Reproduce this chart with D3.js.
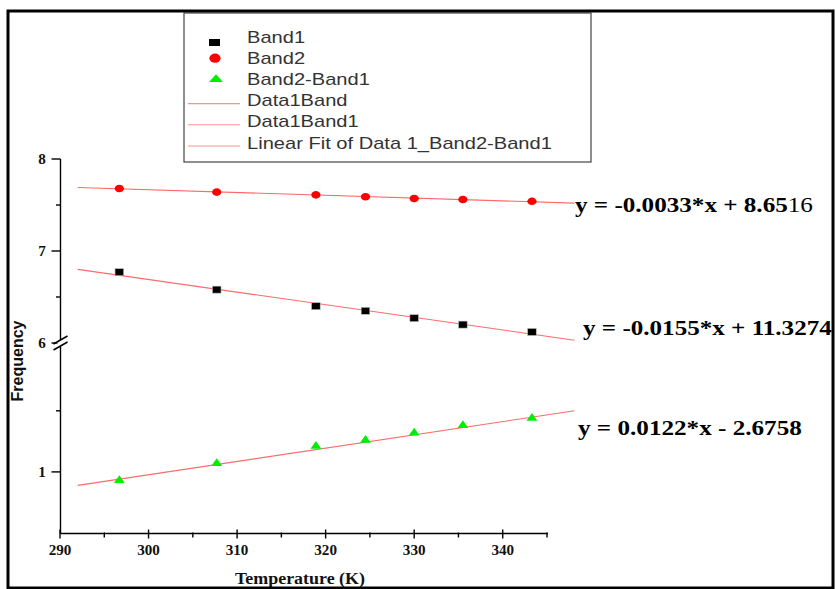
<!DOCTYPE html>
<html>
<head>
<meta charset="utf-8">
<script src="https://cdn.jsdelivr.net/npm/d3@7"></script>
<style>
  html, body { margin: 0; padding: 0; background: #fff; }
  svg { display: block; }
</style>
</head>
<body>
<svg id="chart" width="836" height="589"></svg>
<script>
// values
const temps = [296.7, 307.7, 318.9, 324.5, 330.0, 335.5, 343.3]
const band1 = [6.77, 6.58, 6.40, 6.35, 6.27, 6.20, 6.12]
const band2 = [7.68, 7.64, 7.61, 7.59, 7.57, 7.56, 7.54]
const band2MinusBand1 = [0.93, 1.07, 1.21, 1.26, 1.32, 1.38, 1.44]

// fitted lines, start and end
const fitX = [292.0, 348.1]
const fitBand2 = [7.69, 7.52]
const fitBand1 = [6.80, 6.03]
const fitDiff = [0.89, 1.50]

const xTicks = [290, 300, 310, 320, 330, 340]
const xMinor = [295, 305, 315, 325, 335, 345]
const yTicksUpper = [6, 7, 8]
const yMinorUpper = [6.5, 7.5]
const yTicksLower = [1]
const yMinorLower = [1.5]

const legendItems = ['Band1', 'Band2', 'Band2-Band1', 'Data1Band', 'Data1Band1', 'Linear Fit of Data 1_Band2-Band1']

const RED = '#ff0000', GREEN = '#00ee00', FIT = '#ff6a6a'
const SERIF = '"Liberation Serif", "Times New Roman", serif'
const SANS = '"Liberation Sans", Arial, sans-serif'

let svg = d3.select('#chart')
svg.append('rect').attr('width', 836).attr('height', 589).attr('fill', '#fff')

let x = d3.scaleLinear().domain([290, 345]).range([60, 547])
let yUp = d3.scaleLinear().domain([6, 8]).range([343, 159])
let yLow = d3.scaleLinear().domain([0.5, 2.055]).range([533, 343])
const axisY = 533.5, axisX = 60.5

// the picture is stretched sideways, so text gets squeezed/stretched to a measured width
function placeText(g, tx, ty, str, sx) {
    return g.append('text')
        .attr('transform', `translate(${tx},${ty}) scale(${sx},1)`)
        .text(str)
}
function fitWidth(sel, tx, ty, width) {
    let len = sel.node().getComputedTextLength()
    sel.attr('transform', `translate(${tx},${ty}) scale(${width / len},1)`)
    return width / len
}

// ---- axes ----
let axes = svg.append('g').attr('stroke', '#000').attr('stroke-width', 1.4)
axes.append('line').attr('x1', axisX).attr('x2', x(345) + 1).attr('y1', axisY).attr('y2', axisY)
axes.append('line').attr('x1', axisX).attr('x2', axisX).attr('y1', yUp(8)).attr('y2', axisY)

axes.selectAll('.xmaj').data(xTicks).join('line')
    .attr('x1', d => x(d)).attr('x2', d => x(d))
    .attr('y1', axisY - 4).attr('y2', axisY + 5)
axes.selectAll('.xmin').data(xMinor).join('line')
    .attr('x1', d => x(d)).attr('x2', d => x(d))
    .attr('y1', axisY - 1).attr('y2', axisY + 4)

let yMajor = yTicksUpper.map(yUp).concat(yTicksLower.map(yLow))
let yMinor = yMinorUpper.map(yUp).concat(yMinorLower.map(yLow))
axes.selectAll('.ymaj').data(yMajor).join('line')
    .attr('x1', axisX - 9).attr('x2', axisX).attr('y1', d => d).attr('y2', d => d)
axes.selectAll('.ymin').data(yMinor).join('line')
    .attr('x1', axisX - 4.5).attr('x2', axisX).attr('y1', d => d).attr('y2', d => d)

// axis break
let yb = yUp(6)
svg.append('rect').attr('x', axisX - 3).attr('y', yb - 3).attr('width', 6).attr('height', 6).attr('fill', '#fff')
svg.append('g').attr('stroke', '#000').attr('stroke-width', 1.6)
    .selectAll('line').data([-3, 3]).join('line')
    .attr('x1', axisX - 7).attr('x2', axisX + 7)
    .attr('y1', d => yb + d + 4).attr('y2', d => yb + d - 4)

// tick labels
let tickFont = svg.append('g')
    .attr('font-family', SERIF).attr('font-weight', 'bold').attr('font-size', 14)
    .attr('fill', '#111').attr('text-anchor', 'middle')
let tsx = 0
xTicks.forEach((t, i) => {
    let el = placeText(tickFont, x(t), 555, t, 1)
    if (i === 0) tsx = fitWidth(el, x(t), 555, 22.7)
    else el.attr('transform', `translate(${x(t)},555) scale(${tsx},1)`)
})
yTicksUpper.forEach(t => placeText(tickFont, 42, yUp(t) + 5, t, tsx))
yTicksLower.forEach(t => placeText(tickFont, 42, yLow(t) + 5, t, tsx))

// axis titles
let xTitle = placeText(svg.append('g').attr('font-family', SERIF).attr('font-weight', 'bold')
    .attr('font-size', 16).attr('fill', '#111').attr('text-anchor', 'middle'),
    300, 584, 'Temperature (K)', 1)
fitWidth(xTitle, 300, 584, 130)
svg.append('text')
    .attr('transform', `translate(23,361) rotate(-90)`)
    .attr('font-family', SANS).attr('font-weight', 'bold').attr('font-size', 16)
    .attr('fill', '#111').attr('text-anchor', 'middle')
    .text('Frequency')

// ---- fit lines ----
let fits = svg.append('g').attr('stroke', FIT).attr('stroke-width', 1.1).attr('fill', 'none')
let line = d3.line()
fits.append('path').attr('d', line(fitX.map((t, i) => [x(t), yUp(fitBand2[i])])))
fits.append('path').attr('d', line(fitX.map((t, i) => [x(t), yUp(fitBand1[i])])))
fits.append('path').attr('d', line(fitX.map((t, i) => [x(t), yLow(fitDiff[i])])))

// ---- points ----
let tri = d3.symbol().type(d3.symbolTriangle).size(38)
svg.append('g').selectAll('ellipse').data(temps).join('ellipse')
    .attr('cx', d => x(d)).attr('cy', (d, i) => yUp(band2[i]))
    .attr('rx', 4.6).attr('ry', 3.8).attr('fill', RED)
svg.append('g').selectAll('rect').data(temps).join('rect')
    .attr('x', d => x(d) - 4.3).attr('y', (d, i) => yUp(band1[i]) - 3.5)
    .attr('width', 8.6).attr('height', 7).attr('fill', '#000')
    .attr('stroke', '#bbb').attr('stroke-width', 0.6)
svg.append('g').selectAll('path').data(temps).join('path')
    .attr('d', tri)
    .attr('transform', (d, i) => `translate(${x(d)},${yLow(band2MinusBand1[i])}) scale(1.15,0.95)`)
    .attr('fill', GREEN)

// ---- equations ----
let eqs = svg.append('g').attr('font-family', SERIF).attr('font-size', 21).attr('fill', '#000')
let eq1 = eqs.append('text')
eq1.append('tspan').attr('font-weight', 'bold').text('y = -0.0033*x + 8.65')
eq1.append('tspan').text('16')
fitWidth(eq1, 575, 212, 238)
fitWidth(placeText(eqs, 0, 0, 'y = -0.0155*x + 11.3274', 1).attr('font-weight', 'bold'), 583, 335, 249)
fitWidth(placeText(eqs, 0, 0, 'y = 0.0122*x - 2.6758', 1).attr('font-weight', 'bold'), 578, 435, 224)

// ---- legend ----
let legend = svg.append('g')
legend.append('rect').attr('x', 184).attr('y', 13).attr('width', 407).attr('height', 149)
    .attr('fill', '#fff').attr('stroke', '#444').attr('stroke-width', 1.2)
let rowY = i => 37 + i * 21.2
let legendText = legend.append('g').attr('font-family', SANS).attr('font-size', 16).attr('fill', '#333')
let lsx = 1
let lastEl = placeText(legendText, 247, rowY(5) + 5.5, legendItems[5], 1)
lsx = fitWidth(lastEl, 247, rowY(5) + 5.5, 305)
legendItems.slice(0, 5).forEach((name, i) => placeText(legendText, 247, rowY(i) + 5.5, name, lsx))
legend.append('rect').attr('x', 209).attr('y', rowY(0) + 2).attr('width', 11).attr('height', 7).attr('fill', '#000')
legend.append('ellipse').attr('cx', 215).attr('cy', rowY(1)).attr('rx', 5.6).attr('ry', 4.6).attr('fill', RED)
legend.append('path').attr('d', tri).attr('transform', `translate(216,${rowY(2)}) scale(1.5,0.95)`).attr('fill', GREEN)
legend.selectAll('.lg').data([3, 4, 5]).join('line')
    .attr('x1', 188).attr('x2', 240)
    .attr('y1', i => rowY(i) + 3).attr('y2', i => rowY(i) + 3)
    .attr('stroke', '#ff9090').attr('stroke-width', 1.1)

// outer frame
svg.append('rect').attr('x', 8).attr('y', 11).attr('width', 825).attr('height', 577)
    .attr('fill', 'none').attr('stroke', '#000').attr('stroke-width', 3)
</script>
</body>
</html>
